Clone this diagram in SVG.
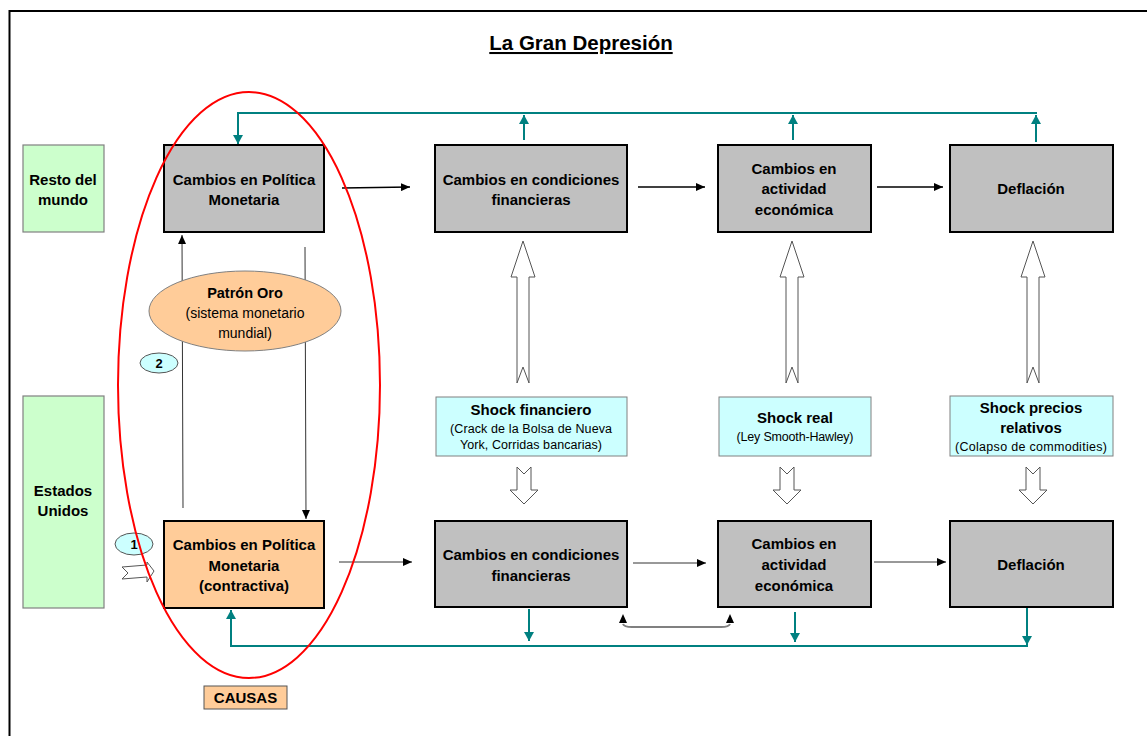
<svg xmlns="http://www.w3.org/2000/svg" width="1147" height="736" viewBox="0 0 1147 736">
<style>
text{font-family:"Liberation Sans",Arial,sans-serif;fill:#000;text-anchor:middle}
.b{font-weight:bold;font-size:15px}
.s{font-size:14px}
.xs{font-size:12.5px}
.gray{fill:#C0C0C0;stroke:#000;stroke-width:2}
.green{fill:#CCFFCC;stroke:#808080;stroke-width:1.2}
.orange{fill:#FFCC99;stroke:#000;stroke-width:2}
.cyan{fill:#CCFFFF;stroke:#808080;stroke-width:1}
.blk{stroke:#000;stroke-width:1.6;fill:none}
.thin{stroke:#333;stroke-width:1;fill:none}
.teal{stroke:#008080;stroke-width:2;fill:none}
.hollow{fill:#fff;stroke:#555;stroke-width:1}
</style>
<defs>
<marker id="ab" markerUnits="userSpaceOnUse" markerWidth="9" markerHeight="8" refX="9" refY="4" orient="auto"><path d="M0,0 L9,4 L0,8 z" fill="#000"/></marker>
<marker id="at" markerUnits="userSpaceOnUse" markerWidth="9" markerHeight="10" refX="9" refY="5" orient="auto"><path d="M0,0 L9,5 L0,10 z" fill="#008080"/></marker>
</defs>
<rect x="9.5" y="11" width="1150" height="740" fill="#fff" stroke="#000" stroke-width="2"/>
<text x="581" y="50" style="font-weight:bold;font-size:20.5px" text-decoration="underline">La Gran Depresión</text>

<g id="connectors">
<path class="teal" d="M1037,113 L238,113 L238,144" marker-end="url(#at)"/>
<path class="teal" d="M524,140 L524,115" marker-end="url(#at)"/>
<path class="teal" d="M793,140 L793,115" marker-end="url(#at)"/>
<path class="teal" d="M1036,142 L1036,115" marker-end="url(#at)"/>
<path class="teal" d="M1028,646 L231,646 L231,610" marker-end="url(#at)"/>
<path class="teal" d="M529,609 L529,641" marker-end="url(#at)"/>
<path class="teal" d="M795,612 L795,642" marker-end="url(#at)"/>
<path class="teal" d="M1027,607 L1027,645" marker-end="url(#at)"/>
<path class="blk" d="M342,188 L410,187" marker-end="url(#ab)"/>
<path class="blk" d="M638,187 L705,187" marker-end="url(#ab)"/>
<path class="blk" d="M877,187 L943,187" marker-end="url(#ab)"/>
<path class="thin" d="M339,562 L412,562" marker-end="url(#ab)"/>
<path class="thin" d="M633,563 L706,563" marker-end="url(#ab)"/>
<path class="thin" d="M874,562 L946,562" marker-end="url(#ab)"/>
<path class="thin" d="M183,508 L182,235" marker-end="url(#ab)"/>
<path class="thin" d="M305,247 L306,519" marker-end="url(#ab)"/>
<path d="M623,624 Q624,627 632,627 L721,627 Q729,627 730,624" fill="none" stroke="#808080" stroke-width="2"/>
<path d="M623,614 L619,623 L627,623 z M730,614 L726,623 L734,623 z" fill="#000"/>
<polygon class="hollow" points="523,241 535,277 529,277 529,383 523,367 517,383 517,277 511,277"/>
<polygon class="hollow" points="792,241 804,277 798,277 798,383 792,367 786,383 786,277 780,277"/>
<polygon class="hollow" points="1033,241 1045,277 1039,277 1039,383 1033,367 1027,383 1027,277 1021,277"/>
<polygon class="hollow" points="517,467 524,474 531,467 531,490 538,490 524,504 510,490 517,490"/>
<polygon class="hollow" points="780,467 787,474 794,467 794,490 801,490 787,504 773,490 780,490"/>
<polygon class="hollow" points="1026,467 1033,474 1040,467 1040,490 1047,490 1033,504 1019,490 1026,490"/>
<polygon class="hollow" points="122,567 147,565 147,562 154,571 147,582 147,577 122,579 128,573"/>
</g>

<g id="resto"><rect class="green" x="23" y="145" width="81" height="87"/><text class="b" x="63" y="185">Resto del</text><text class="b" x="63" y="205">mundo</text></g>
<g id="eeuu"><rect class="green" x="23" y="396" width="81" height="212"/><text class="b" x="63" y="496">Estados</text><text class="b" x="63" y="516">Unidos</text></g>

<g id="pm-top"><rect class="gray" x="164" y="145" width="160" height="87"/><text class="b" x="244" y="185">Cambios en Política</text><text class="b" x="244" y="205">Monetaria</text></g>
<g id="cf-top"><rect class="gray" x="435" y="145" width="192" height="87"/><text class="b" x="531" y="185">Cambios en condiciones</text><text class="b" x="531" y="205">financieras</text></g>
<g id="ae-top"><rect class="gray" x="718" y="145" width="153" height="87"/><text class="b" x="794" y="174">Cambios en</text><text class="b" x="794" y="194">actividad</text><text class="b" x="794" y="215">económica</text></g>
<g id="def-top"><rect class="gray" x="950" y="145" width="163" height="87"/><text class="b" x="1031" y="194">Deflación</text></g>

<g id="pm-bot"><rect class="orange" x="164" y="521" width="160" height="87"/><text class="b" x="244" y="550">Cambios en Política</text><text class="b" x="244" y="571">Monetaria</text><text class="b" x="244" y="591">(contractiva)</text></g>
<g id="cf-bot"><rect class="gray" x="435" y="521" width="192" height="86"/><text class="b" x="531" y="560">Cambios en condiciones</text><text class="b" x="531" y="581">financieras</text></g>
<g id="ae-bot"><rect class="gray" x="718" y="521" width="153" height="86"/><text class="b" x="794" y="549">Cambios en</text><text class="b" x="794" y="570">actividad</text><text class="b" x="794" y="591">económica</text></g>
<g id="def-bot"><rect class="gray" x="950" y="521" width="163" height="86"/><text class="b" x="1031" y="570">Deflación</text></g>

<g id="shock-fin"><rect class="cyan" x="436" y="397" width="191" height="59"/><text class="b" x="531" y="415">Shock financiero</text><text class="xs" x="531" y="433" textLength="162">(Crack de la Bolsa de Nueva</text><text class="xs" x="531" y="449" textLength="142">York, Corridas bancarias)</text></g>
<g id="shock-real"><rect class="cyan" x="719" y="397" width="152" height="59"/><text class="b" x="795" y="423">Shock real</text><text class="xs" x="795" y="441" textLength="117">(Ley Smooth-Hawley)</text></g>
<g id="shock-precios"><rect class="cyan" x="950" y="396" width="163" height="60"/><text class="b" x="1031" y="413">Shock precios</text><text class="b" x="1031" y="433">relativos</text><text class="xs" x="1031" y="451" textLength="152">(Colapso de commodities)</text></g>

<g id="patron-oro"><ellipse cx="245" cy="311" rx="96" ry="40" fill="#FFCC99" stroke="#808080" stroke-width="1"/><text x="245" y="298" style="font-weight:bold;font-size:14.5px">Patrón Oro</text><text class="s" x="245" y="318">(sistema monetario</text><text class="s" x="245" y="338">mundial)</text></g>
<g id="n2"><ellipse cx="159" cy="363" rx="19" ry="10" fill="#CCFFFF" stroke="#555" stroke-width="1"/><text x="159" y="368" style="font-weight:bold;font-size:13px">2</text></g>
<g id="n1"><ellipse cx="134" cy="544" rx="19" ry="11" fill="#CCFFFF" stroke="#555" stroke-width="1"/><text x="134" y="549" style="font-weight:bold;font-size:13px">1</text></g>
<g id="causas-ring"><ellipse cx="249" cy="385" rx="131" ry="293" fill="none" stroke="#FF0000" stroke-width="2"/></g>
<g id="causas"><rect x="204" y="686" width="83" height="23" fill="#FFCC99" stroke="#555" stroke-width="1"/><text class="b" x="245.5" y="703">CAUSAS</text></g>
</svg>
